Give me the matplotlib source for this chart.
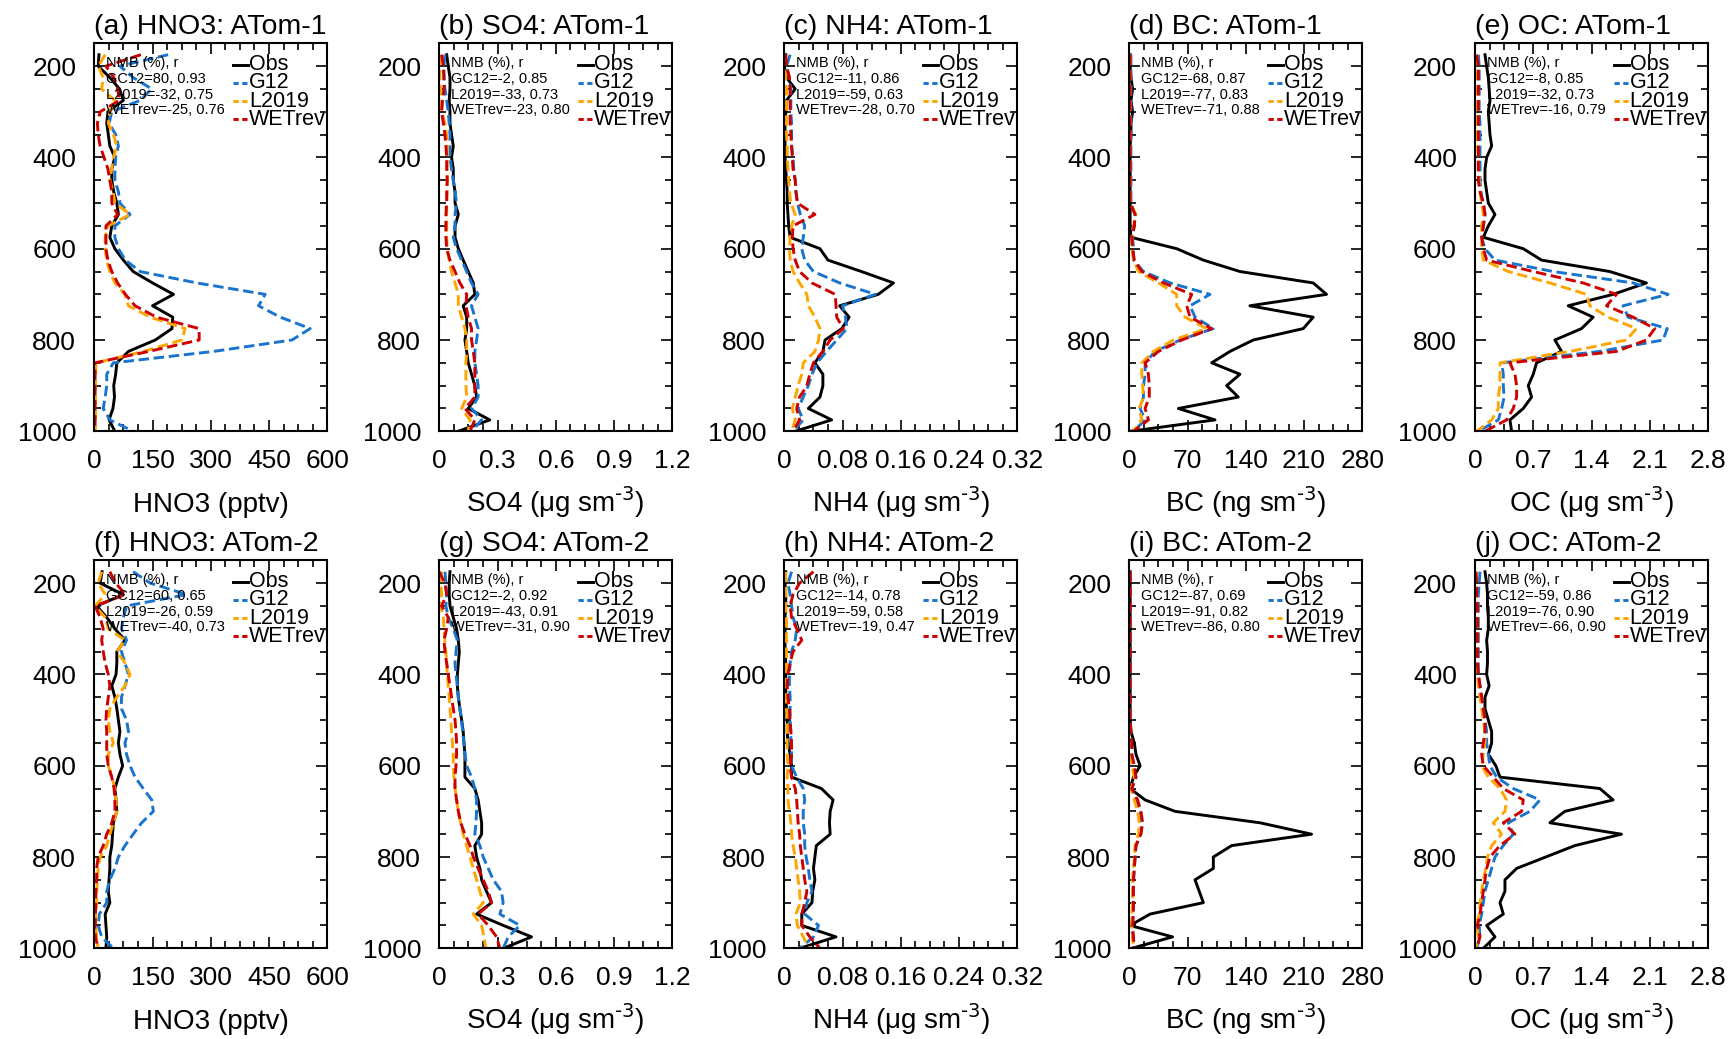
import numpy as np
import matplotlib
matplotlib.use("Agg")
import matplotlib.pyplot as plt
from matplotlib.ticker import MultipleLocator, FixedLocator

plt.rcParams['font.family'] = ['Liberation Sans', 'DejaVu Sans']
plt.rcParams['mathtext.default'] = 'regular'

# pressure levels (hPa), top of profile to surface
levels = [175, 200, 225, 250, 275, 300, 325, 350, 375, 400,
          425, 450, 475, 500, 525, 550, 575, 600, 625, 650,
          675, 700, 725, 750, 775, 800, 825, 850, 875, 900,
          925, 950, 975, 1000]

# ---- ATom-1 ----
hno3_obs_1 = [12, 10, 40, 65, 75, 35, 32, 36, 40, 53, 45, 45, 50, 58, 62, 45, 40, 53, 75, 100,
              150, 204, 150, 202, 200, 157, 88, 58, 55, 50, 52, 48, 38, 53]
hno3_g12_1 = [190, 66, 100, 148, 118, 45, 38, 55, 62, 55, 53, 53, 62, 66, 92, 53, 53, 62, 80, 118,
              264, 440, 423, 479, 556, 509, 307, 49, 32, 32, 28, 23, 40, 100]
hno3_l19_1 = [28, 10, 23, 19, 53, 40, 36, 49, 58, 49, 45, 40, 49, 53, 92, 36, 28, 28, 32, 40,
              53, 79, 88, 144, 234, 225, 127, 5, 3, 3, 3, 3, 3, 3]
hno3_wet_1 = [120, 30, 50, 60, 65, 15, 8, 10, 15, 25, 35, 40, 45, 45, 60, 30, 30, 30, 35, 45,
              60, 80, 105, 160, 270, 270, 140, 2, 2, 2, 2, 2, 2, 2]

so4_obs_1 = [0.038, 0.046, 0.055, 0.055, 0.051, 0.055, 0.055, 0.063, 0.072, 0.063,
             0.072, 0.072, 0.081, 0.081, 0.098, 0.081, 0.081, 0.098, 0.123, 0.149,
             0.175, 0.183, 0.123, 0.141, 0.141, 0.132, 0.141, 0.149, 0.166, 0.183,
             0.192, 0.149, 0.26, 0.098]
so4_g12_1 = [0.029, 0.024, 0.024, 0.029, 0.038, 0.046, 0.051, 0.055, 0.055, 0.055,
             0.063, 0.072, 0.081, 0.089, 0.081, 0.081, 0.072, 0.089, 0.115, 0.141,
             0.166, 0.2, 0.166, 0.183, 0.2, 0.192, 0.183, 0.183, 0.192, 0.2,
             0.2, 0.166, 0.218, 0.166]
so4_l19_1 = [0.012, 0.003, 0.003, 0.007, 0.009, 0.012, 0.029, 0.038, 0.041, 0.041,
             0.041, 0.041, 0.041, 0.038, 0.038, 0.038, 0.038, 0.041, 0.051, 0.063,
             0.081, 0.098, 0.098, 0.115, 0.132, 0.141, 0.141, 0.137, 0.137, 0.137,
             0.141, 0.115, 0.158, 0.149]
so4_wet_1 = [0.012, 0.021, 0.024, 0.024, 0.017, 0.012, 0.021, 0.029, 0.034, 0.038,
             0.038, 0.041, 0.038, 0.038, 0.034, 0.034, 0.034, 0.038, 0.055, 0.081,
             0.106, 0.141, 0.137, 0.149, 0.166, 0.166, 0.175, 0.183, 0.183, 0.183,
             0.183, 0.132, 0.183, 0.158]

nh4_obs_1 = [0.002, 0.0, 0.003, 0.015, 0.003, 0.002, 0.001, 0.001, 0.001, 0.001,
             0.002, 0.003, 0.004, 0.004, 0.005, 0.006, 0.008, 0.049, 0.06, 0.106,
             0.15, 0.129, 0.076, 0.089, 0.079, 0.056, 0.053, 0.042, 0.053, 0.053,
             0.049, 0.033, 0.065, 0.015]
nh4_g12_1 = [0.008, 0.003, 0.007, 0.009, 0.009, 0.009, 0.01, 0.01, 0.01, 0.012,
             0.013, 0.015, 0.016, 0.018, 0.022, 0.028, 0.026, 0.024, 0.028, 0.04,
             0.076, 0.125, 0.08, 0.084, 0.086, 0.072, 0.058, 0.045, 0.038, 0.033,
             0.026, 0.019, 0.026, 0.012]
nh4_l19_1 = [0.002, 0.001, 0.002, 0.003, 0.003, 0.003, 0.003, 0.003, 0.004, 0.004,
             0.005, 0.006, 0.007, 0.009, 0.015, 0.01, 0.008, 0.007, 0.008, 0.012,
             0.021, 0.031, 0.033, 0.042, 0.049, 0.047, 0.042, 0.026, 0.024, 0.019,
             0.015, 0.011, 0.015, 0.01]
nh4_wet_1 = [0.002, 0.003, 0.007, 0.008, 0.008, 0.008, 0.008, 0.009, 0.01, 0.011,
             0.012, 0.015, 0.016, 0.018, 0.042, 0.012, 0.011, 0.012, 0.015, 0.021,
             0.038, 0.07, 0.071, 0.072, 0.081, 0.063, 0.053, 0.04, 0.035, 0.031,
             0.021, 0.017, 0.021, 0.012]

bc_obs_1 = [1, 1, 2, 4, 2, 4, 2, 2, 1, 1, 1, 1, 1, 1, 1, 1, 2, 57, 89, 133,
            221, 237, 145, 221, 209, 149, 121, 99, 133, 117, 131, 59, 103, 1]
bc_g12_1 = [2, 2, 2, 2, 2, 2, 2, 2, 2, 2, 2, 2, 2, 2, 7, 6, 4, 5, 5, 17,
            49, 97, 73, 79, 101, 61, 31, 19, 19, 17, 17, 13, 19, 5]
bc_l19_1 = [1, 1, 1, 1, 1, 1, 1, 1, 1, 1, 1, 1, 1, 1, 8, 5, 3, 3, 5, 11,
            35, 57, 57, 67, 93, 53, 29, 15, 15, 16, 17, 12, 15, 5]
bc_wet_1 = [1, 1, 1, 1, 1, 1, 1, 1, 1, 1, 1, 1, 1, 1, 7, 6, 3, 4, 6, 15,
            41, 75, 69, 73, 99, 63, 35, 19, 23, 24, 24, 19, 23, 5]

oc_obs_1 = [0.12, 0.14, 0.16, 0.17, 0.18, 0.16, 0.17, 0.18, 0.2, 0.14,
            0.12, 0.12, 0.14, 0.16, 0.24, 0.16, 0.1, 0.58, 0.8, 1.62,
            2.06, 1.66, 1.12, 1.42, 1.28, 0.96, 1.04, 0.74, 0.7, 0.64,
            0.68, 0.58, 0.42, 0.44]
oc_g12_1 = [0.04, 0.05, 0.05, 0.05, 0.05, 0.05, 0.06, 0.06, 0.06, 0.06,
            0.06, 0.06, 0.07, 0.1, 0.12, 0.1, 0.08, 0.12, 0.24, 0.94,
            1.9, 2.32, 1.78, 1.84, 2.31, 2.26, 1.5, 0.32, 0.34, 0.34,
            0.35, 0.32, 0.28, 0.04]
oc_l19_1 = [0.02, 0.03, 0.03, 0.03, 0.03, 0.03, 0.03, 0.03, 0.03, 0.04,
            0.04, 0.05, 0.06, 0.08, 0.1, 0.08, 0.08, 0.08, 0.1, 0.4,
            0.9, 1.34, 1.38, 1.6, 1.94, 1.82, 1.14, 0.3, 0.3, 0.3,
            0.28, 0.28, 0.2, 0.02]
oc_wet_1 = [0.02, 0.04, 0.04, 0.04, 0.04, 0.04, 0.04, 0.04, 0.04, 0.04,
            0.04, 0.04, 0.06, 0.1, 0.12, 0.1, 0.08, 0.1, 0.14, 0.7,
            1.3, 1.7, 1.58, 1.9, 2.16, 2.06, 1.7, 0.42, 0.48, 0.5,
            0.5, 0.46, 0.38, 0.12]

# ---- ATom-2 ----
hno3_obs_2 = [20, 15, 75, 6, 32, 53, 79, 58, 58, 56, 45, 53, 58, 62, 66, 62, 66, 73, 62, 53,
              56, 58, 49, 47, 45, 40, 40, 38, 36, 40, 28, 30, 32, 30]
hno3_g12_2 = [100, 144, 238, 83, 75, 70, 83, 70, 79, 88, 79, 70, 70, 83, 88, 79, 83, 92, 105, 126,
              148, 152, 122, 100, 79, 62, 53, 40, 32, 32, 13, 10, 19, 49]
hno3_l19_2 = [19, 10, 28, 2, 28, 36, 79, 58, 79, 92, 79, 58, 40, 36, 40, 49, 36, 36, 45, 53,
              56, 58, 49, 40, 32, 15, 10, 8, 6, 6, 4, 4, 6, 10]
hno3_wet_2 = [40, 55, 80, 2, 15, 23, 19, 23, 28, 36, 40, 36, 32, 30, 32, 32, 32, 36, 45, 51,
              53, 53, 45, 32, 23, 10, 6, 6, 4, 4, 3, 2, 3, 10]

so4_obs_2 = [0.055, 0.051, 0.051, 0.055, 0.072, 0.089, 0.098, 0.103, 0.098, 0.093,
             0.093, 0.098, 0.106, 0.115, 0.123, 0.127, 0.132, 0.132, 0.132, 0.183,
             0.2, 0.209, 0.218, 0.218, 0.183, 0.192, 0.209, 0.218, 0.243, 0.269,
             0.192, 0.33, 0.475, 0.33]
so4_g12_2 = [0.029, 0.034, 0.038, 0.034, 0.046, 0.072, 0.093, 0.086, 0.081, 0.086,
             0.093, 0.098, 0.106, 0.115, 0.12, 0.127, 0.132, 0.141, 0.166, 0.183,
             0.192, 0.192, 0.189, 0.183, 0.209, 0.226, 0.252, 0.278, 0.32, 0.329,
             0.312, 0.415, 0.355, 0.329]
so4_l19_2 = [0.012, 0.007, 0.012, 0.007, 0.021, 0.024, 0.029, 0.034, 0.038, 0.041,
             0.046, 0.051, 0.055, 0.06, 0.063, 0.068, 0.072, 0.072, 0.075, 0.081,
             0.089, 0.098, 0.11, 0.123, 0.141, 0.158, 0.175, 0.192, 0.209, 0.226,
             0.175, 0.218, 0.23, 0.24]
so4_wet_2 = [0.0, 0.029, 0.038, 0.012, 0.046, 0.038, 0.024, 0.029, 0.038, 0.046,
             0.055, 0.063, 0.072, 0.081, 0.086, 0.089, 0.089, 0.086, 0.081, 0.081,
             0.089, 0.098, 0.11, 0.132, 0.158, 0.175, 0.2, 0.226, 0.252, 0.269,
             0.2, 0.252, 0.295, 0.312]

nh4_obs_2 = [0.002, 0.001, 0.002, 0.002, 0.001, 0.001, 0.001, 0.001, 0.002, 0.002,
             0.002, 0.002, 0.003, 0.004, 0.004, 0.005, 0.008, 0.01, 0.01, 0.051,
             0.067, 0.063, 0.062, 0.063, 0.044, 0.042, 0.04, 0.042, 0.039, 0.038,
             0.024, 0.024, 0.071, 0.021]
nh4_g12_2 = [0.01, 0.005, 0.008, 0.01, 0.012, 0.017, 0.015, 0.01, 0.008, 0.007,
             0.007, 0.008, 0.008, 0.008, 0.009, 0.009, 0.01, 0.01, 0.017, 0.026,
             0.028, 0.026, 0.026, 0.028, 0.028, 0.03, 0.033, 0.035, 0.038, 0.031,
             0.028, 0.047, 0.04, 0.021]
nh4_l19_2 = [0.002, 0.002, 0.002, 0.002, 0.003, 0.003, 0.003, 0.003, 0.003, 0.003,
             0.003, 0.003, 0.003, 0.004, 0.004, 0.004, 0.004, 0.005, 0.004, 0.005,
             0.005, 0.007, 0.009, 0.01, 0.012, 0.015, 0.017, 0.019, 0.021, 0.022,
             0.016, 0.018, 0.026, 0.034]
nh4_wet_2 = [0.04, 0.021, 0.012, 0.008, 0.01, 0.017, 0.024, 0.012, 0.008, 0.005,
             0.004, 0.005, 0.007, 0.008, 0.009, 0.01, 0.01, 0.008, 0.01, 0.015,
             0.017, 0.018, 0.019, 0.021, 0.022, 0.024, 0.026, 0.028, 0.031, 0.028,
             0.024, 0.024, 0.035, 0.049]

bc_obs_2 = [1, 1, 1, 1, 1, 1, 1, 1, 1, 1, 1, 1, 1, 1, 2, 6, 8, 13, 5, 1,
            19, 55, 157, 219, 123, 101, 101, 79, 84, 89, 25, 1, 52, 3]
bc_g12_2 = [1, 1, 1, 1, 1, 1, 1, 1, 1, 1, 1, 1, 1, 1, 1, 1, 3, 5, 8, 3,
            8, 13, 15, 13, 8, 7, 6, 5, 4, 4, 4, 3, 4, 6]
bc_l19_2 = [0.5, 0.5, 0.5, 0.5, 0.5, 0.5, 0.5, 0.5, 0.5, 0.5, 0.5, 0.5, 0.5, 0.5, 0.5, 0.5, 2, 3, 6, 2,
            6, 10, 12, 11, 7, 6, 5, 4, 4, 4, 3, 3, 4, 5]
bc_wet_2 = [1, 1, 1, 1, 1, 1, 1, 1, 1, 1, 1, 1, 1, 1, 2, 3, 3, 6, 8, 3,
            10, 14, 16, 14, 8, 7, 6, 5, 5, 5, 5, 4, 5, 6]

oc_obs_2 = [0.12, 0.14, 0.15, 0.15, 0.16, 0.16, 0.14, 0.15, 0.15, 0.14,
            0.17, 0.12, 0.12, 0.16, 0.2, 0.2, 0.16, 0.25, 0.3, 1.5,
            1.66, 1.08, 0.9, 1.76, 1.2, 0.85, 0.5, 0.36, 0.36, 0.3,
            0.34, 0.14, 0.24, 0.1]
oc_g12_2 = [0.06, 0.05, 0.04, 0.04, 0.04, 0.04, 0.04, 0.04, 0.04, 0.04,
            0.06, 0.08, 0.1, 0.12, 0.14, 0.14, 0.16, 0.18, 0.26, 0.46,
            0.78, 0.66, 0.4, 0.46, 0.34, 0.24, 0.2, 0.16, 0.12, 0.1,
            0.08, 0.05, 0.06, 0.02]
oc_l19_2 = [0.02, 0.02, 0.02, 0.03, 0.03, 0.03, 0.03, 0.03, 0.03, 0.03,
            0.04, 0.06, 0.08, 0.1, 0.12, 0.12, 0.1, 0.08, 0.16, 0.3,
            0.38, 0.36, 0.22, 0.32, 0.2, 0.15, 0.13, 0.1, 0.08, 0.06,
            0.05, 0.02, 0.04, 0.01]
oc_wet_2 = [0.01, 0.02, 0.02, 0.03, 0.03, 0.03, 0.03, 0.03, 0.03, 0.04,
            0.06, 0.08, 0.1, 0.12, 0.12, 0.1, 0.08, 0.1, 0.22, 0.34,
            0.58, 0.56, 0.34, 0.48, 0.3, 0.18, 0.14, 0.12, 0.1, 0.08,
            0.06, 0.03, 0.06, 0.02]

# NMB (%) and r for each model run
stats = {
    'a': [(80, 0.93), (-32, 0.75), (-25, 0.76)],
    'b': [(-2, 0.85), (-33, 0.73), (-23, 0.80)],
    'c': [(-11, 0.86), (-59, 0.63), (-28, 0.70)],
    'd': [(-68, 0.87), (-77, 0.83), (-71, 0.88)],
    'e': [(-8, 0.85), (-32, 0.73), (-16, 0.79)],
    'f': [(60, 0.65), (-26, 0.59), (-40, 0.73)],
    'g': [(-2, 0.92), (-43, 0.91), (-31, 0.90)],
    'h': [(-14, 0.78), (-59, 0.58), (-19, 0.47)],
    'i': [(-87, 0.69), (-91, 0.82), (-86, 0.80)],
    'j': [(-59, 0.86), (-76, 0.90), (-66, 0.90)],
}
run_names = ['GC12', 'L2019', 'WETrev']

species = ['HNO3', 'SO4', 'NH4', 'BC', 'OC']
xlabels = ['HNO3 (pptv)', r'SO4 (μg sm$^{\text{-3}}$)', r'NH4 (μg sm$^{\text{-3}}$)',
           r'BC (ng sm$^{\text{-3}}$)', r'OC (μg sm$^{\text{-3}}$)']
xmax = [600, 1.2, 0.32, 280, 2.8]
xticklabels = [['0', '150', '300', '450', '600'],
               ['0', '0.3', '0.6', '0.9', '1.2'],
               ['0', '0.08', '0.16', '0.24', '0.32'],
               ['0', '70', '140', '210', '280'],
               ['0', '0.7', '1.4', '2.1', '2.8']]

profiles = [
    [(hno3_obs_1, hno3_g12_1, hno3_l19_1, hno3_wet_1),
     (so4_obs_1, so4_g12_1, so4_l19_1, so4_wet_1),
     (nh4_obs_1, nh4_g12_1, nh4_l19_1, nh4_wet_1),
     (bc_obs_1, bc_g12_1, bc_l19_1, bc_wet_1),
     (oc_obs_1, oc_g12_1, oc_l19_1, oc_wet_1)],
    [(hno3_obs_2, hno3_g12_2, hno3_l19_2, hno3_wet_2),
     (so4_obs_2, so4_g12_2, so4_l19_2, so4_wet_2),
     (nh4_obs_2, nh4_g12_2, nh4_l19_2, nh4_wet_2),
     (bc_obs_2, bc_g12_2, bc_l19_2, bc_wet_2),
     (oc_obs_2, oc_g12_2, oc_l19_2, oc_wet_2)],
]

names = ['Obs', 'G12', 'L2019', 'WETrev']
colors = ['black', '#1874cd', '#ffa500', '#cd0000']
styles = ['-', (0, (3.6, 1.6)), (0, (3.6, 1.6)), (0, (3.6, 1.6))]

fig = plt.figure(figsize=(17.3, 10.39), dpi=100)
W, H = 1730.0, 1039.0
lefts = [94.3, 439.3, 784.3, 1129.3, 1475.0]
bottoms = [431.3, 948.3]
aw, ah = 233.0, 388.0

letters = 'abcdefghij'
for row in range(2):
    for col in range(5):
        ax = fig.add_axes([lefts[col] / W, 1 - bottoms[row] / H, aw / W, ah / H])
        tag = letters[row * 5 + col]
        for vals, c, ls in zip(profiles[row][col], colors, styles):
            ax.plot(vals, levels, color=c, linestyle=ls, lw=2.1)

        ax.set_xlim(0, xmax[col])
        ax.set_ylim(1000, 150)
        ax.xaxis.set_major_locator(FixedLocator(np.linspace(0, xmax[col], 5)))
        ax.set_xticklabels(xticklabels[col])
        ax.xaxis.set_minor_locator(MultipleLocator(xmax[col] / 16))
        ax.yaxis.set_major_locator(FixedLocator([200, 400, 600, 800, 1000]))
        ax.yaxis.set_minor_locator(MultipleLocator(50))
        ax.tick_params(which='both', direction='in', top=True, right=True,
                       labelsize=19, width=1.2, pad=13)
        ax.tick_params(which='major', length=8)
        ax.tick_params(which='minor', length=5)
        for sp in ax.spines.values():
            sp.set_linewidth(1.5)

        ax.set_title('(%s) %s: ATom-%d' % (tag, species[col], row + 1),
                     loc='left', fontsize=20.5, pad=7)
        # same baseline for every x label, superscript or not
        ax.set_xlabel(xlabels[col], fontsize=20, va='baseline')
        ax.xaxis.set_label_coords(0.5, -0.208)

        # NMB / r annotation
        lines = ['NMB (%), r'] + ['%s=%d, %.2f' % (n, s[0], s[1])
                                  for n, s in zip(run_names, stats[tag])]
        for k, t in enumerate(lines):
            ax.text(0.05, 0.95 - k * 0.041, t, transform=ax.transAxes,
                    fontsize=10.5, va='center', ha='left', zorder=10)

        # legend drawn as short line segments plus labels
        for k, (n, c, ls) in enumerate(zip(names, colors, styles)):
            y = 0.945 - k * 0.047
            ax.plot([0.597, 0.66], [y, y], transform=ax.transAxes, color=c,
                    lw=2.1, linestyle='-' if k == 0 else (0, (1.8, 1.2)),
                    clip_on=False, zorder=10)
            ax.text(0.664, y, n, transform=ax.transAxes, fontsize=15.5,
                    va='center', ha='left', zorder=10)

fig.savefig('out.png', dpi=100)
